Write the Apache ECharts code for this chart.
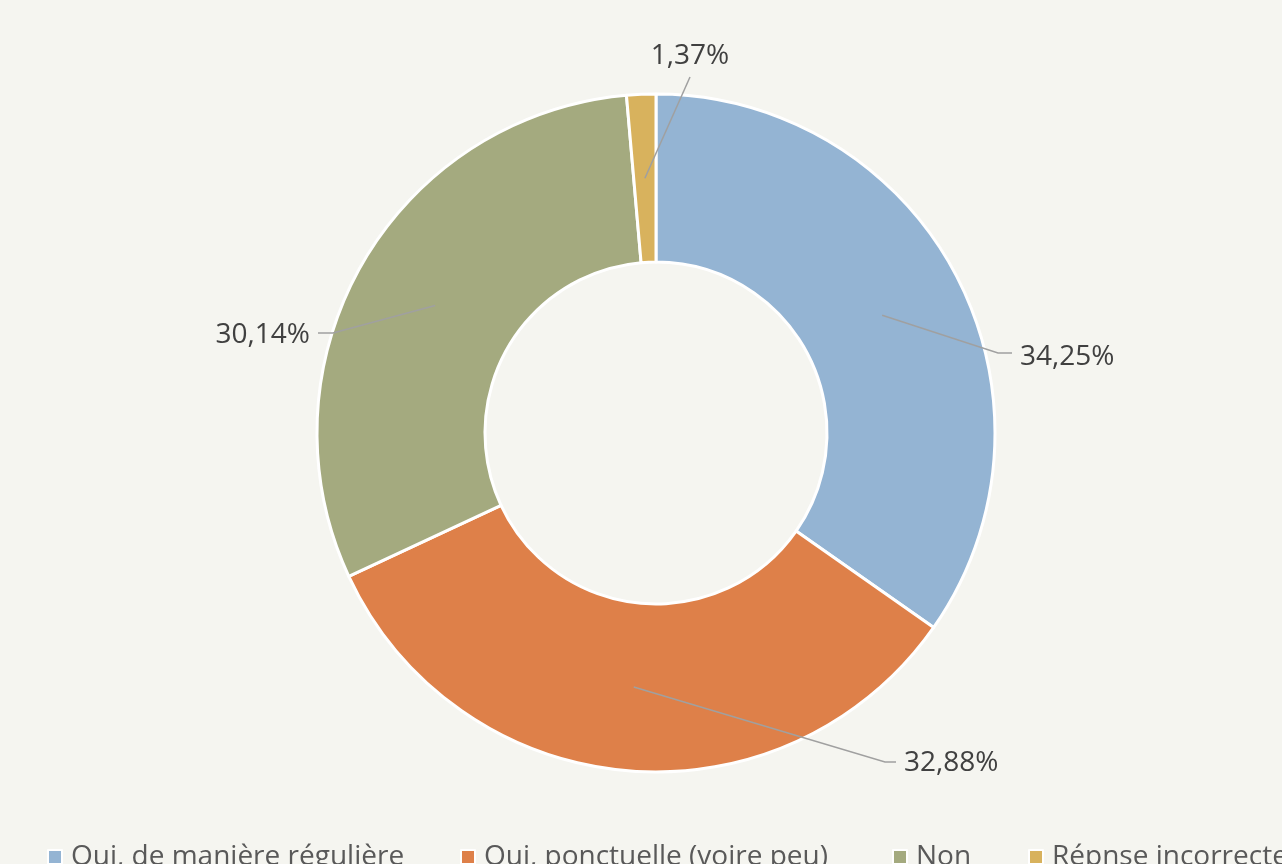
<!DOCTYPE html>
<html>
<head>
<meta charset="utf-8">
<script src="https://cdn.jsdelivr.net/npm/echarts@6/dist/echarts.min.js"></script>
<style>
html,body{margin:0;padding:0;background:#f5f5f0;}
#chart{width:1282px;height:864px;}
</style>
</head>
<body>
<div id="chart"></div>
<script>
// Data
const categories = ['Oui, de manière régulière', 'Oui, ponctuelle (voire peu)', 'Non', 'Répnse incorrecte'];
const percentages = [34.25, 32.88, 30.14, 1.37];
const colors = ['#94b4d3', '#de8049', '#a4aa7f', '#d8b25d'];

// Layout (label anchors, legend positions)
const labelAnchors = [
  {x: 1020, y: 357, align: 'left', bend: [[998, 353], [1012, 353]]},
  {x: 904, y: 763, align: 'left', bend: [[885, 762], [896, 762]]},
  {x: 310, y: 335, align: 'right', bend: [[333, 333], [318, 333]]},
  {x: 690, y: 56, align: 'center', bend: [[690, 77]]}
];
const legendLefts = [42, 455, 887, 1023];

const fontFamily = '"Open Sans", "Noto Sans", sans-serif';
const chart = echarts.init(document.getElementById('chart'));

const pieData = categories.map((c, i) => ({
  name: c, value: percentages[i], itemStyle: {color: colors[i]}
}));

const legends = categories.map((c, i) => ({
  data: [c],
  left: legendLefts[i],
  top: 838,
  orient: 'horizontal',
  itemWidth: 20,
  itemHeight: 14,
  icon: 'path://M0,0H10V10H0Z',
  selectedMode: false,
  textStyle: {fontFamily: fontFamily, fontSize: 28, color: '#595959', padding: [0, 0, 0, 1]}
}));

chart.setOption({
  backgroundColor: '#f5f5f0',
  animation: false,
  legend: legends,
  series: [
    {
      type: 'pie',
      z: 2,
      center: [656, 433],
      radius: [171, 339],
      startAngle: 90,
      clockwise: true,
      silent: true,
      label: {show: false},
      labelLine: {show: false},
      itemStyle: {borderColor: '#ffffff', borderWidth: 3},
      data: pieData
    },
    {
      type: 'pie',
      z: 5,
      center: [656, 433],
      radius: [0, 255],
      startAngle: 90,
      clockwise: true,
      silent: true,
      avoidLabelOverlap: false,
      itemStyle: {color: 'rgba(0,0,0,0)', borderWidth: 0},
      label: {
        show: true,
        position: 'outside',
        fontFamily: fontFamily,
        fontSize: 28,
        color: '#404040',
        formatter: p => p.value.toFixed(2).replace('.', ',') + '%'
      },
      labelLine: {show: true, length: 20, length2: 10, lineStyle: {color: '#a0a0a0', width: 1.5}},
      labelLayout: function (params) {
        const a = labelAnchors[params.dataIndex];
        const start = params.labelLinePoints ? params.labelLinePoints[0] : [656, 433];
        return {
          x: a.x, y: a.y, align: a.align, verticalAlign: 'middle',
          labelLinePoints: [start].concat(a.bend)
        };
      },
      data: categories.map((c, i) => ({name: c, value: percentages[i]}))
    }
  ]
});
</script>
</body>
</html>
